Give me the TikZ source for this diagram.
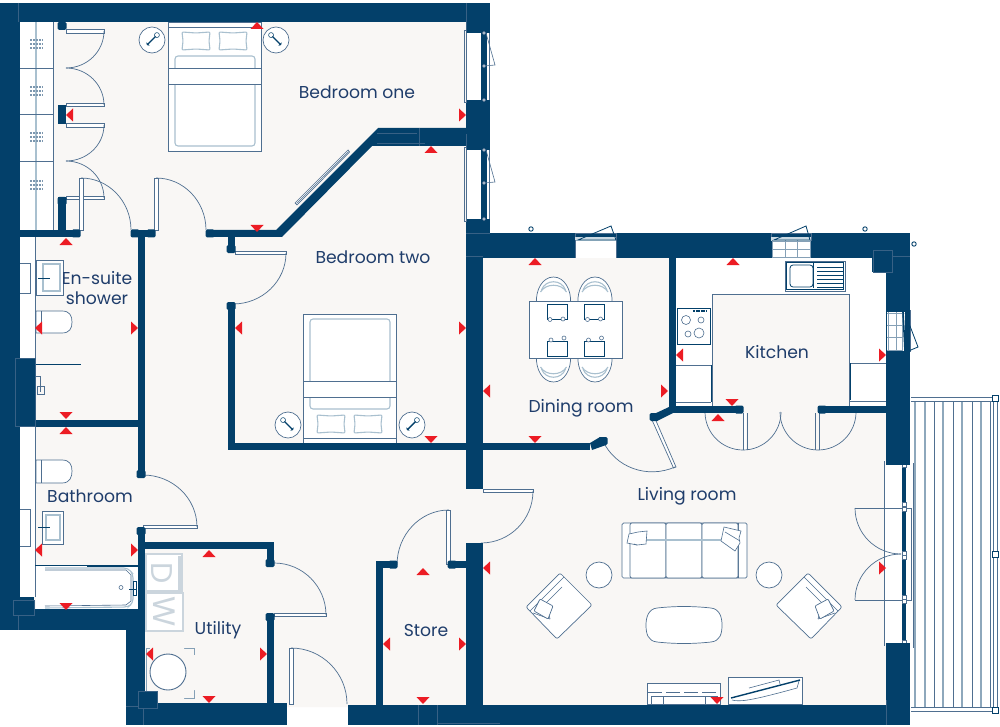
\documentclass[tikz,border=0pt]{standalone}
\usepackage{fontspec}
\usepackage{graphicx}
\setmainfont{Poppins}
\definecolor{wallc}{HTML}{03406A}
\definecolor{redc}{HTML}{EC1C24}
\definecolor{floorc}{HTML}{F9F7F5}
\definecolor{linec}{HTML}{4F6F90}
\definecolor{palec}{HTML}{A9C0CF}
\definecolor{txtc}{HTML}{1F3D6B}
\definecolor{grayc}{HTML}{CBD5DD}
\tikzset{
 wall/.style={fill=wallc},
 thin line/.style={draw=linec,line width=0.6pt},
 furn/.style={draw=linec,line width=0.7pt,fill=white},
 soft/.style={draw=palec,line width=1.1pt},
 swing/.style={draw=linec,line width=0.7pt},
 leaf/.style={draw=linec,line width=0.7pt,fill=white},
 dark line/.style={draw=wallc,line width=0.8pt},
 lab/.style={text=txtc,font=\fontsize{17.2}{18.5}\selectfont,inner sep=0pt,align=center},
 seam/.style={draw=linec!70!wallc,line width=0.4pt},
}
\newcommand\qarc[6]{\draw[swing] ({#1+(#3)},{#2+(#4)}) .. controls ({#1+(#3)+0.5523*(#5)},{#2+(#4)+0.5523*(#6)}) and ({#1+(#5)+0.5523*(#3)},{#2+(#6)+0.5523*(#4)}) .. ({#1+(#5)},{#2+(#6)});}
\newcommand\tup[2]{\fill[redc] ({#1},{#2}) -- ({#1-6.5},{#2+7}) -- ({#1+6.5},{#2+7}) -- cycle;}
\newcommand\tdn[2]{\fill[redc] ({#1},{#2}) -- ({#1-6.5},{#2-7}) -- ({#1+6.5},{#2-7}) -- cycle;}
\newcommand\tlf[2]{\fill[redc] ({#1},{#2}) -- ({#1+7},{#2-6.5}) -- ({#1+7},{#2+6.5}) -- cycle;}
\newcommand\trt[2]{\fill[redc] ({#1},{#2}) -- ({#1-7},{#2-6.5}) -- ({#1-7},{#2+6.5}) -- cycle;}
\newcommand\jamb[2]{\fill[wallc,rounded corners=1.5pt] ({#1-4.5},{#2-4}) rectangle ({#1+4.5},{#2+4});}
\newcommand\hanger[1]{\foreach \d in {-4,0,4}{\draw[draw=palec!50!linec,line width=1.3pt,dash pattern=on 2pt off 1pt] (30,{#1+\d}) -- (43,{#1+\d});}}
\newcommand\lamp[3]{\begin{scope}[shift={(#1,#2)},rotate=#3]
 \draw[furn] (0,0) circle[radius=13pt];
 \draw[wallc,line width=1.4pt] (0,-7) -- (0,5);
 \draw[wallc,line width=.5pt] (0,7) circle[radius=2.5pt];
 \draw[wallc,line width=.7pt] (-2,-6) -- (2,-6);
\end{scope}}
\newcommand\bed{%
 \draw[furn] (168,22) rectangle (261,151);
 \draw[thin line] (168,27) -- (261,27);
 \draw[soft,rounded corners=1pt] (182,32) -- (196,33) -- (210,32) -- (209,41) -- (210,50) -- (196,49) -- (182,50) -- (183,41) -- cycle;
 \draw[soft,rounded corners=1pt] (219,32) -- (233,33) -- (247,32) -- (246,41) -- (247,50) -- (233,49) -- (219,50) -- (220,41) -- cycle;
 \draw[soft,rounded corners=3pt] (175,56) rectangle (255,146);
 \draw[furn] (168,68) rectangle (261,84);
}
\newcommand\chair{%
 \draw[furn,rounded corners=2pt] (560,573) -- (592,605) -- (557,639) -- (526,607) -- cycle;
 \draw[thin line] (562,587) -- (546,603);
 \draw[thin line] (564,577) -- (530,611);
 \draw[thin line] (533,613) -- (550,619);
 \draw[thin line] (546,603) -- (550,619);
 \draw[furn,rounded corners=1pt] (540,599) -- (553,606) -- (548,619) -- (534,611) -- cycle;
}
\begin{document}
\begin{tikzpicture}[x=1pt,y=-1pt]
\useasboundingbox (0,0) rectangle (1000,727);
\fill[white] (0,0) rectangle (1000,727);
% floor
\fill[floorc] (20,20) -- (470,20) -- (470,240) -- (890,240) -- (890,707) -- (140,707) -- (140,625) -- (20,625) -- cycle;
% white recesses
\fill[white] (20,22) rectangle (53,230);
\fill[white] (20,237) rectangle (35,358);
\fill[white] (20,427) rectangle (35,597);
\fill[white] (676,258) rectangle (886,406);
\fill[floorc] (712,294) rectangle (849,406);
\draw[thin line] (712,406) -- (712,294) -- (849,294) -- (849,406);
% wardrobe
\draw[palec,line width=2.4pt] (36,22) -- (36,230);
\draw[thin line] (53,22) -- (53,230);
\foreach \y in {68,114,161}{\draw[thin line,line width=.9pt] (20,\y) -- (53,\y);}
\hanger{44}\hanger{91}\hanger{137}\hanger{185}
% wardrobe doors
\draw[leaf] (66,29.5) rectangle (104,33);
\draw[leaf] (66,103) rectangle (104,106.5);
\draw[leaf] (66,123.5) rectangle (104,127);
\draw[leaf] (66,196.5) rectangle (104,199.5);
\qarc{66}{31}{38}{0}{0}{37}
\qarc{66}{105}{38}{0}{0}{-37}
\qarc{66}{125}{38}{0}{0}{36}
\qarc{66}{198}{38}{0}{0}{-37}
% en-suite doors
\draw[leaf] (79,178) rectangle (83,230);
\qarc{81}{230}{0}{-52}{50}{0}
\draw[leaf] (154,178) rectangle (158,230);
\qarc{156}{230}{0}{-52}{50}{0}
% bedroom one
\bed
\lamp{152}{40}{135}
\lamp{276}{40}{-135}
% item on the diagonal wall
\draw[furn] (295,203) -- (348,150) -- (349.5,152) -- (297,205) -- cycle;
\draw[thin line] (296.5,203.5) -- (348.5,151.5);
% bedroom two door
\draw[leaf] (235,251) rectangle (286,254.5);
\qarc{233}{253}{53}{0}{0}{51}
% bed two
\begin{scope}[shift={(135,465)},yscale=-1]
 \bed
\end{scope}
\lamp{288}{425}{-135}
\lamp{412}{425}{135}
% en-suite fittings
\draw[thin line] (20,263) -- (30,263) -- (30,293) -- (20,293);
\draw[furn] (36,260) rectangle (63,295);
\draw[soft] (43,264) rectangle (60,291);
\draw[wallc,line width=1pt,rounded corners=1pt] (38,278) -- (50,278);
\draw[furn] (36,311) -- (62,311) .. controls (70,311) and (72,316) .. (72,322) .. controls (72,328) and (70,333) .. (62,333) -- (36,333) -- cycle;
\draw[thin line] (41,311) -- (41,333);
\draw[dark line,line width=1pt] (35,364) -- (81,364);
\draw[thin line,line width=.9pt] (36,376) -- (40,376) -- (40,392) (37,386) rectangle (44,394);
\draw[thin line] (35,237) -- (35,358);
\draw[thin line] (35,427) -- (35,597);
% bathroom fittings
\draw[furn] (36,460) -- (62,460) .. controls (70,460) and (72,465) .. (72,471) .. controls (72,477) and (70,483) .. (62,483) -- (36,483) -- cycle;
\draw[thin line] (41,460) -- (41,483);
\draw[thin line] (20,509) -- (30,509) -- (30,546) -- (20,546);
\draw[furn] (42,511) rectangle (63,544);
\draw[soft] (46,515) rectangle (60,540);
\draw[wallc,line width=1pt] (38,527) -- (50,527);
% bath
\fill[white] (36,565) rectangle (138,609);
\draw[dark line,line width=.9pt] (35,565) -- (138,565);
\draw[wallc,line width=2pt] (87,566) -- (138,566);
\draw[soft,rounded corners=4pt] (45,568) -- (128,568) -- (133,574) -- (133,603) -- (128,607) -- (45,608);
\draw[thin line] (45,570) -- (126,570) -- (131,575) -- (131,601) -- (126,605) -- (45,606);
\draw[thin line] (121,587.5) circle[radius=2pt];
\draw[wallc,line width=.8pt] (133,581) rectangle (136,595) (129,589) -- (136,589);
% utility appliances
\draw[soft,draw=grayc,fill=white] (146,554) rectangle (182,591);
\fill[grayc] (178,556) rectangle (182,590);
\draw[soft,draw=grayc,fill=white] (146,593) rectangle (183,631);
\node[text=grayc,font=\fontsize{30}{30}\selectfont,inner sep=0pt] (dryer) at (162,573) {\rotatebox{-90}{D}};
\node[text=grayc,font=\fontsize{31}{31}\selectfont,inner sep=0pt] (washer) at (164,612) {\rotatebox{-90}{W}};
% boiler
\draw[thin line,draw=palec!60!linec] (146,648) -- (194,648) -- (194,698) -- (146,698) (146,648) -- (146,698);
\fill[floorc] (150,647) rectangle (184,649) (195,655) rectangle (193,690) (150,697) rectangle (184,699);
\draw[furn,line width=.9pt] (168,672) circle[radius=18pt];
% utility door
\draw[leaf] (274,613.5) rectangle (326,616.5);
\qarc{274}{615}{52}{0}{0}{-52}
% entrance door
\draw[leaf] (289,648) rectangle (293,704);
\qarc{291}{704}{0}{-56}{56}{0}
% bathroom door
\draw[leaf] (143,525.5) rectangle (197,528.5);
\qarc{143}{527}{54}{0}{0}{-52}
% store door
\draw[leaf] (446.5,510) rectangle (450,564);
\qarc{449}{565}{0}{-55}{-52}{0}
% living door
\draw[leaf] (483,489) rectangle (533,492.5);
\qarc{481}{491}{52}{0}{0}{52}
% dining furniture
\foreach \cx in {553.5,595}{
 \draw[furn] (\cx,277) .. controls ({\cx+11},277) and ({\cx+18},290) .. ({\cx+17},303) -- ({\cx-17},303) .. controls ({\cx-18},290) and ({\cx-11},277) .. (\cx,277) -- cycle;
 \draw[furn] (\cx,382) .. controls ({\cx+11},382) and ({\cx+18},369) .. ({\cx+17},356) -- ({\cx-17},356) .. controls ({\cx-18},369) and ({\cx-11},382) .. (\cx,382) -- cycle;
 \draw[soft] ({\cx-12},290) .. controls ({\cx-8},279) and ({\cx+8},279) .. ({\cx+12},290);
 \draw[soft] ({\cx-13},292) .. controls ({\cx-8},283) and ({\cx+8},283) .. ({\cx+13},292);
 \draw[soft] ({\cx-12},369) .. controls ({\cx-8},380) and ({\cx+8},380) .. ({\cx+12},369);
 \draw[soft] ({\cx-13},367) .. controls ({\cx-8},376) and ({\cx+8},376) .. ({\cx+13},367);
}
\draw[furn] (529,301) rectangle (622,358);
\foreach \cx in {557,594.5}{
 \draw[wallc,line width=1pt,fill=white] ({\cx-10},304) rectangle ({\cx+10},319);
 \draw[wallc,line width=1pt,fill=white] ({\cx-10},341) rectangle ({\cx+10},356);
 \draw[linec,line width=.6pt,fill=white] ({\cx-7},319.5) circle[radius=2pt] ({\cx+6},319) circle[radius=2pt];
 \draw[linec,line width=.6pt,fill=white] ({\cx-6},340) circle[radius=2pt] ({\cx+7},338) circle[radius=2pt];
}
% dining door
\draw[leaf] (652,420) -- (655,418.5) -- (676,467) -- (673.5,468) -- cycle;
\qarc{653}{419}{22}{48}{-50}{22}
% kitchen
\draw[furn] (677,308) rectangle (710,344);
\draw[dark line] (677,308) rectangle (710,344);
\draw[thin line] (686,320) circle[radius=4.5pt] (701,320) circle[radius=3pt] (688,334) circle[radius=3pt] (699,333) circle[radius=5pt];
\draw[wallc,line width=1.4pt,dash pattern=on 2pt off .5pt] (693,311) -- (706,311);
\fill[white] (676,365) rectangle (711,403);
\draw[thin line] (676,365) -- (711,365);
\draw[thin line] (676,402) -- (711,402);
\draw[dark line,line width=1pt] (711,365) -- (711,402);
\draw[thin line] (850,363) -- (886,363) (850,401) -- (886,401);
\draw[dark line,line width=1pt] (850,363) -- (850,400);
\draw[thin line] (785,261) rectangle (845,291);
\draw[dark line] (786.5,262.5) rectangle (843.5,289.5);
\draw[dark line,rounded corners=3pt] (790,265) rectangle (813,287);
\draw[dark line] (813,263) -- (813,288);
\foreach \y in {267,271,275,279,283,287}{\draw[wallc,line width=.9pt] (817,\y) -- (843,\y);}
\fill[white] (743,413) rectangle (746,450);
\draw[thin line] (743,413) -- (743,450) (747,413) -- (747,450);
\draw[thin line] (815,413) -- (815,450) (819,413) -- (819,450);
\qarc{743}{412}{-38}{0}{0}{38}
\qarc{743}{412}{38}{0}{0}{38}
\qarc{818}{412}{-38}{0}{0}{38}
\qarc{818}{412}{38}{0}{0}{38}
% balcony
\foreach \x in {934,953,972,990}{\draw[linec,line width=.8pt] (\x,401) -- (\x,707);}
\foreach \x in {915,925,943,962,981}{\draw[palec!70!linec,line width=1.2pt] (\x,401) -- (\x,707);}
\draw[thin line,line width=.9pt] (911,397) -- (995,397) (911,401) -- (995,401);
\draw[thin line,line width=.9pt] (911,707) -- (995,707) (911,711) -- (995,711);
\draw[thin line,line width=.9pt] (993,401) -- (993,707) (997,401) -- (997,707);
\foreach \y in {398,554,710}{\draw[wallc,line width=.8pt,fill=white] (992,{\y-3}) rectangle (998,{\y+3});}
\draw[thin line,line width=.9pt] (913,463) -- (913,648);
% living door openings
\fill[white] (885,465) rectangle (902,643);
\draw[thin line] (884,461) -- (884,646);
\draw[leaf,fill=none] (855,508) -- (911,508) -- (911,600) -- (855,600);
\qarc{901}{508}{-46}{0}{0}{46}
\qarc{901}{600}{-46}{0}{0}{-46}
\draw[wallc,line width=3.4pt] (904,465) -- (904,643);
\foreach \y in {504,509,553,557,597,601,465,642}{\draw[thin line,line width=.7pt,fill=white] (902,{\y-2}) rectangle (906,{\y+2});}
% sofa
\draw[furn,rounded corners=1.5pt] (622,523) rectangle (747,578);
\draw[thin line] (630,523) -- (630,578) (738,523) -- (738,578);
\draw[furn,rounded corners=2pt] (630,523) rectangle (666,578);
\draw[furn,rounded corners=2pt] (666,523) rectangle (702,578);
\draw[furn,rounded corners=2pt] (702,523) rectangle (738,578);
\draw[soft] (630,540) -- (738,540);
\draw[thin line,fill=white] (629,534) -- (638,532) -- (647,531) -- (646,544) -- (637,545) -- (627,543) -- cycle;
\draw[thin line,fill=white] (724,527) -- (741,531) -- (739,538) -- (740,543) -- (735,551) -- (721,541) -- cycle;
\draw[thin line] (637,545) -- (634,544) (725,532) -- (740,541);
% side tables
\draw[furn] (599,575) circle[radius=13pt] (769,575) circle[radius=13pt];
% coffee table
\draw[furn] (657,608) .. controls (676,606) and (692,606) .. (711,608) .. controls (720,609) and (722,618) .. (722,625) .. controls (722,634) and (720,641) .. (711,642) .. controls (692,644) and (676,644) .. (657,642) .. controls (648,641) and (646,634) .. (646,625) .. controls (646,618) and (648,609) .. (657,608) -- cycle;
% armchairs
\chair
\begin{scope}[xshift=1368pt,xscale=-1]
\chair
\end{scope}
% TV
\draw[furn] (647,683) rectangle (720,704);
\draw[thin line,dash pattern=on 14pt off 4pt] (648,692) -- (719,692);
\draw[thin line] (651,704) -- (651,696) -- (718,696) (663,704) -- (663,696) (705,704) -- (705,696);
\draw[furn] (728,677) rectangle (802,704);
\draw[thin line] (749,688) -- (779,680) -- (780,684);
\draw[thin line] (732,700) .. controls (740,702) and (750,701) .. (797,688) -- (799,681);
\draw[wallc,line width=1.4pt] (731,698) -- (800,680);
% walls
\fill[wallc] (0,3) rectangle (490,22);
\fill[wallc] (0,3) rectangle (20,630);
\fill[wallc] (466,3) rectangle (490,33);
\fill[wallc] (466,100) rectangle (490,150);
\fill[wallc] (466,219) rectangle (490,258);
\fill[wallc] (466,219) rectangle (483,489);
\fill[wallc] (466,543) rectangle (483,705);
\fill[wallc] (467,233) rectangle (910,258);
\fill[wallc] (886,233) rectangle (910,465);
\fill[wallc] (872,258) rectangle (886,272);
\fill[wallc] (886,643) rectangle (910,725);
\fill[wallc] (348,705) rectangle (910,725);
\fill[wallc] (126,703) rectangle (287,725);
\fill[wallc] (126,609) rectangle (145,725);
\fill[wallc] (0,609) rectangle (145,630);
\fill[wallc] (15,358) rectangle (35,427);
\fill[wallc] (20,597) rectangle (34,609);
\fill[wallc] (20,230) rectangle (78,237);
\fill[wallc] (131,230) rectangle (155,237);
\fill[wallc] (138,237) rectangle (145,474);
\fill[wallc] (138,528) rectangle (145,609);
\fill[wallc] (20,420) rectangle (138,427);
\fill[wallc] (145,542) rectangle (274,549);
\fill[wallc] (267,542) rectangle (274,562);
\fill[wallc] (267,617) rectangle (274,703);
\fill[wallc] (138,691) rectangle (157,705);
\fill[wallc] (228,237) rectangle (235,250);
\fill[wallc] (228,305) rectangle (235,450);
\fill[wallc] (228,443) rectangle (466,450);
\fill[wallc] (483,443) rectangle (590,450);
\fill[wallc] (590,443) -- (600,437) -- (606,445) -- (592,450) -- cycle;
\fill[wallc] (376,561) rectangle (383,705);
\fill[wallc] (376,561) rectangle (396,568);
\fill[wallc] (449,561) rectangle (466,568);
\fill[wallc] (669,258) rectangle (676,413);
\fill[wallc] (669,406) rectangle (743,413);
\fill[wallc] (818,406) rectangle (886,413);
\fill[wallc] (669,407) -- (654,414) -- (657,421) -- (673,413) -- cycle;
\fill[wallc] (58,197) rectangle (66,230);
\fill[wallc] (58,105) rectangle (66,124);
\fill[wallc] (207,230) -- (276,230) -- (378,128) -- (466,128) -- (466,146) -- (372,146) -- (282,237) -- (207,237) -- cycle;
% jambs
\jamb{62}{26}\jamb{62}{201}
\jamb{76}{233.5}\jamb{135}{233.5}\jamb{151}{233.5}\jamb{210}{233.5}
\jamb{231}{249}\jamb{231}{306}\jamb{141}{474}\jamb{141}{531}
\jamb{270}{563}\jamb{270}{617}
\jamb{393}{564.5}\jamb{452}{564.5}
\jamb{739}{409.5}\jamb{822}{409.5}\jamb{603}{441}\jamb{654}{417}
% windows
\foreach \a/\b in {33/100,150/219}{
 \fill[white] (466,\a) rectangle (481,\b);
 \draw[thin line] (464,{\a-3}) rectangle (466,{\b+2});
 \fill[wallc] (481,\a) rectangle (487,\b);
 \draw[thin line] (489,\a) -- (489,\b);
 \draw[thin line] (486,\a) -- (495,{\a+32}) -- (484,{\a+33});
 \foreach \y in {\a,{\a+33},\b}{\draw[thin line,fill=white] (484,{\y}) circle[radius=1.6pt];}
}
% top windows
\fill[white] (575,240) rectangle (616,258);
\draw[thin line] (575,233) rectangle (616,240);
\fill[palec!60] (575,237) rectangle (616,241);
\draw[thin line] (575,240) -- (575,258) (616,240) -- (616,258);
\draw[dark line] (578,240) -- (611,226) -- (616,240) -- cycle;
\fill[white] (772,240) rectangle (810,258);
\draw[thin line] (771,233) rectangle (811,240);
\fill[palec!60] (771,237) rectangle (811,241);
\foreach \x in {772,785,797,810}{\draw[palec!60!linec,line width=.7pt] (\x,240) -- (\x,258);}
\foreach \y in {241,249,257}{\draw[palec!60!linec,line width=.7pt] (772,\y) -- (810,\y);}
\draw[dark line] (774,240) -- (806,226) -- (810,240) -- cycle;
% right window
\fill[white] (887,312) rectangle (905,351);
\foreach \y in {313,325,337,350}{\draw[palec!60!linec,line width=.7pt] (887,\y) -- (902,\y);}
\foreach \x in {888,896,902}{\draw[palec!60!linec,line width=.7pt] (\x,312) -- (\x,351);}
\draw[dark line,line width=1.6pt] (903,312) -- (905,351);
\draw[thin line] (910,310) -- (910,352);
\draw[dark line] (905,313) -- (918,347) -- (906,352);
% seams
\draw[seam] (18,3) -- (18,22) (466,3) -- (466,33) (466,134) -- (466,150) (466,233) -- (490,233) (466,256) -- (483,256);
\draw[seam] (873,250) rectangle (892,272) (892,256) -- (910,256);
\draw[seam] (15,358) rectangle (35,426);
\draw[seam] (13,600) rectangle (34,615) (18,615) -- (18,630);
\draw[seam] (138,691) rectangle (157,708) (126,706) -- (138,706) (143,708) -- (143,725);
\draw[seam] (418,705) -- (418,725) (437,705) -- (437,725) (437,723) -- (500,723);
\draw[seam] (377,133) -- (417,133) (377,143) -- (425,143) (419,128) -- (419,146);
\draw[seam] (886,700) -- (886,725);
% small posts
\draw[wallc,line width=.9pt,fill=white] (531,229) circle[radius=2.2pt] (865,229) circle[radius=2.2pt] (914,244) circle[radius=2.2pt];
% red markers
\tup{257}{22}\tdn{257}{232}\tlf{66}{115}\trt{466}{115}\tup{431}{146}\tup{66}{238}
\tlf{35}{328}\trt{138}{328}\tdn{66}{419}\tup{66}{427}\tlf{235}{328}\trt{466}{328}\tdn{431}{443}
\tlf{35}{550}\trt{138}{550}\tdn{66}{610}\tup{209}{550}\tlf{146}{654}\trt{267}{654}\tdn{209}{703}
\tlf{483}{568}\tup{423}{568}\tlf{383}{644}\trt{466}{644}\tdn{423}{704}
\tup{535}{258}\tlf{483}{391}\trt{668}{391}\tdn{535}{443}\tlf{676}{355}\tup{733}{258}\tdn{732}{406}\tup{718}{414}
\trt{886}{355}\trt{886}{568}\tdn{717}{704}
% labels
\node[lab] (b1) at (357,92) {Bedroom one};
\node[lab] (b2) at (373,257) {Bedroom two};
\node[lab] (es) at (97,288) {En-suite\\[1pt]shower};
\node[lab] (ba) at (90,496) {Bathroom};
\node[lab] (ut) at (218,630) {Utility};
\node[lab] (st) at (426,630) {Store};
\node[lab] (di) at (581,408) {Dining room};
\node[lab] (ki) at (777,352) {Kitchen};
\node[lab] (li) at (687,496) {Living room};
\end{tikzpicture}
\end{document}
